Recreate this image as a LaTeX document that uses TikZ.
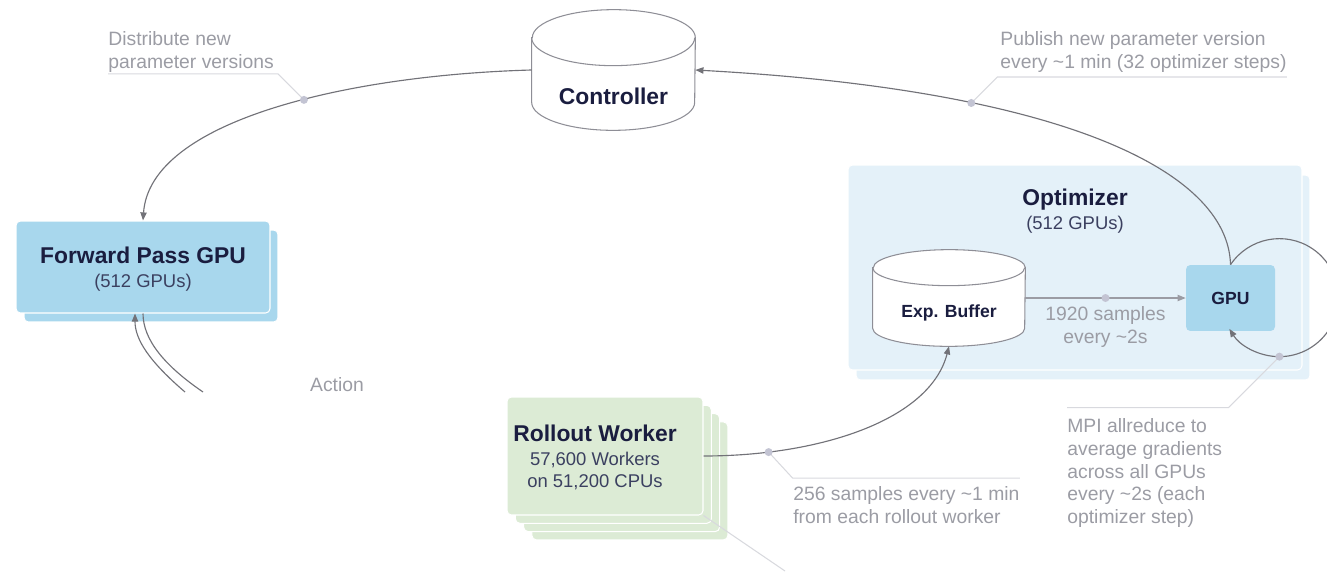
\documentclass[tikz,border=0pt]{standalone}
\usepackage{fontspec}
\setmainfont{Liberation Sans}
\usepackage{tikz}
\usetikzlibrary{arrows.meta}
\usetikzlibrary{positioning}
\usetikzlibrary{calc}

\definecolor{navy}{HTML}{1A1D3F}
\definecolor{subnavy}{HTML}{3B4060}
\definecolor{notegray}{HTML}{9B9CA4}
\definecolor{flowgray}{HTML}{727278}
\definecolor{leadergray}{HTML}{D8D9DE}
\definecolor{dotgray}{HTML}{C3C4D3}
\definecolor{drumgray}{HTML}{8E8E96}
\definecolor{gpublue}{HTML}{A8D7ED}
\definecolor{optblue}{HTML}{E4F1F9}
\definecolor{rollgreen}{HTML}{DCEBD5}

% storage drum drawn round an empty node: name, x radius, y radius
\newcommand{\drum}[3]{%
  \filldraw[fill=white, draw=drumgray, line width=0.6pt]
    ($(#1.north west)+(0,-#3)$) -- ($(#1.south west)+(0,#3)$)
    arc[start angle=180, end angle=360, x radius=#2, y radius=#3]
    -- ($(#1.north east)+(0,-#3)$)
    arc[start angle=0, end angle=180, x radius=#2, y radius=#3] -- cycle;
  \draw[drumgray, line width=0.6pt] ($(#1.north west)+(0,-#3)$)
    arc[start angle=180, end angle=360, x radius=#2, y radius=#3];
}

\begin{document}
\begin{tikzpicture}[x=0.02cm, y=0.02cm,
  title/.style={font=\fontsize{13}{15}\selectfont\bfseries, text=navy, inner sep=0},
  small title/.style={font=\fontsize{10}{12}\selectfont\bfseries, text=navy, inner sep=0},
  sub/.style={font=\fontsize{10.5}{13}\selectfont, text=subnavy, inner sep=0},
  note/.style={font=\fontsize{11}{13}\selectfont, text=notegray, inner sep=0, align=left, anchor=north west},
  card/.style={rounded corners=2.5pt, draw=white, line width=0.6pt},
  flow/.style={draw=flowgray, line width=0.65pt, -{Triangle[length=4.6pt,width=3.6pt]}},
  leader/.style={draw=leadergray, line width=0.6pt}]

\useasboundingbox (0,0) rectangle (1327,-571);

\node[card, fill=optblue, minimum width=9.08cm, minimum height=4.1cm] (optback) at (1083,-277.5) {};
\node[card, fill=optblue, minimum width=9.08cm, minimum height=4.1cm] (opt) at (1075,-267.5) {};
\node[title] at (1075,-200) {Optimizer};
\node[sub] at (1075,-225) {(512 GPUs)};

\node[card, fill=gpublue, minimum width=5.08cm, minimum height=1.84cm] (fwdback) at (151,-276) {};
\node[card, fill=gpublue, minimum width=5.08cm, minimum height=1.84cm] (fwd) at (143,-267) {};
\node[title] at (143,-255) {Forward Pass GPU};
\node[sub] at (143,-283) {(512 GPUs)};

\foreach \i in {3,2,1}
  \node[card, fill=rollgreen, minimum width=3.92cm, minimum height=2.36cm] (roll\i) at (605+8.3*\i,-456-8.3*\i) {};
\node[card, fill=rollgreen, minimum width=3.92cm, minimum height=2.36cm] (roll) at (605,-456) {};
\node[title] at (595,-433) {Rollout Worker};
\node[sub, align=center] at (595,-471) {57,600 Workers\\on 51,200 CPUs};

\node[inner sep=0, minimum width=3.26cm, minimum height=2.4cm] (ctrl) at (613.5,-70) {};
\drum{ctrl}{81.5}{28}
\node[title] at (613.5,-96) {Controller};

\node[inner sep=0, minimum width=3.04cm, minimum height=1.92cm] (exp) at (949,-298) {};
\drum{exp}{76}{18}
\node[small title] at (949,-313) {Exp. Buffer};

\node[rounded corners=2.5pt, fill=gpublue, minimum width=1.78cm, minimum height=1.32cm] (gpu) at (1230.5,-298) {};
\node[small title] at (1230.5,-298) {GPU};

\draw[flow] (ctrl.west) .. controls (350,-75) and (150,-120) .. (fwd.north) coordinate[pos=0.43] (dist);
\draw[flow] (gpu.north) .. controls (1228,-170) and (1060,-90) .. (ctrl.east) coordinate[pos=0.7] (pub);
\draw[flow] (gpu.north) arc[start angle=146, end angle=-148, radius=59];
\coordinate (mpi) at ($(gpu.north)+(48.9,-92)$);
\draw[flow, draw=notegray] (exp.east) -- (gpu.west) coordinate[pos=0.5] (batch);
\draw[flow] (roll.east) .. controls (820,-456) and (930,-420) .. (exp.south) coordinate[pos=0.19] (upload);

\coordinate (actin) at (185,-392);
\coordinate (actout) at (203,-392);
\draw[flow] (actin) .. controls (150,-362) and (135,-340) .. ([xshift=-0.16cm]fwd.south);
\draw[draw=flowgray, line width=0.65pt] (fwd.south) .. controls (143,-340) and (165,-366) .. (actout);
\node[note, anchor=center] (action) at (337,-385) {Action};

\coordinate (tail) at (785,-571);
\draw[leader] (roll.south east) -- (tail);

\node[note] (distnote) at (108,-31) {Distribute new\\parameter versions};
\node[note] (pubnote) at (1000,-31) {Publish new parameter version\\every \textasciitilde1 min (32 optimizer steps)};
\node[note] (upnote) at (793,-486) {256 samples every \textasciitilde1 min\\from each rollout worker};
\node[note] (mpinote) at (1067,-418) {MPI allreduce to\\average gradients\\across all GPUs\\every \textasciitilde2s (each\\optimizer step)};
\node[note, align=center, anchor=north] (batchnote) at ($(batch)+(0,-8)$) {1920 samples\\every \textasciitilde2s};

\draw[leader] (dist) -- ++(-26,26) coordinate (d1) -- (d1 -| distnote.west);
\draw[leader] (pub) -- ++(26,26) coordinate (p1) -- (p1 -| pubnote.east);
\draw[leader] (upload) -- ++(24,-26) coordinate (u1) -- (u1 -| upnote.east);
\draw[leader] (mpi) -- ++(-51,-51) coordinate (m1) -- (m1 -| mpinote.west);

\foreach \p in {dist,pub,upload,mpi,batch}
  \fill[dotgray] (\p) circle[radius=4];

\end{tikzpicture}
\end{document}
